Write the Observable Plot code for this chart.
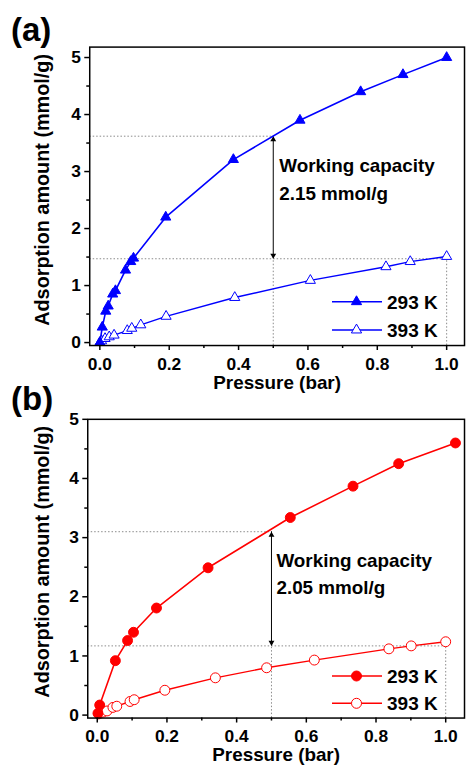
<!DOCTYPE html>
<html><head><meta charset="utf-8">
<script src="https://cdn.jsdelivr.net/npm/d3@7"></script>
<script src="https://cdn.jsdelivr.net/npm/@observablehq/plot@0.6"></script>
<style>
body{margin:0;background:#fff;}
#wrap{position:relative;width:466px;height:767px;overflow:hidden;background:#fff;font-family:"Liberation Sans",Arial,sans-serif;font-weight:bold;}
.fig{position:absolute;left:0;}
.tag{position:absolute;left:11px;font-size:33px;line-height:33px;font-weight:bold;}
.legend{position:absolute;left:0;overflow:visible;}
</style></head><body><div id="wrap"></div>
<script>
// ---------- data: panel (a), blue triangles ----------
const pressureA293 = [0, 0.007, 0.017, 0.024, 0.037, 0.045, 0.074, 0.089, 0.097, 0.19, 0.385, 0.577, 0.752, 0.874, 1.0];
const uptakeA293   = [0, 0.27, 0.55, 0.64, 0.85, 0.91, 1.27, 1.42, 1.48, 2.2, 3.21, 3.9, 4.4, 4.7, 5.0];
const pressureA393 = [0, 0.005, 0.015, 0.027, 0.041, 0.079, 0.092, 0.118, 0.191, 0.389, 0.607, 0.825, 0.895, 1.0];
const uptakeA393   = [0, 0.03, 0.07, 0.10, 0.13, 0.21, 0.25, 0.31, 0.46, 0.79, 1.09, 1.33, 1.42, 1.51];
// ---------- data: panel (b), red circles ----------
const pressureB293 = [0.002, 0.007, 0.052, 0.087, 0.104, 0.17, 0.318, 0.554, 0.734, 0.865, 1.028];
const uptakeB293   = [0.03, 0.17, 0.92, 1.26, 1.40, 1.81, 2.49, 3.34, 3.87, 4.25, 4.6];
const pressureB393 = [0.004, 0.016, 0.028, 0.045, 0.056, 0.094, 0.106, 0.194, 0.339, 0.486, 0.623, 0.837, 0.901, 1.0];
const uptakeB393   = [0.02, 0.05, 0.07, 0.13, 0.15, 0.23, 0.26, 0.42, 0.63, 0.80, 0.93, 1.12, 1.17, 1.24];
// ---------- working-capacity guides: [pressure, high uptake, low uptake, end pressure, end uptake] ----------
const guideA = [0.5, 3.62, 1.47, 1.0, 1.51];
const guideB = [0.5, 3.10, 1.17, 1.0, 1.24];
const noteA = ["Working capacity", "2.15 mmol/g"];
const noteB = ["Working capacity", "2.05 mmol/g"];
const noteYA = [3.10, 2.60];
const noteYB = [2.61, 2.15];
const seriesNames = ["293 K", "393 K"];
const panelTags = ["(a)", "(b)"];
// ---------- ticks ----------
const xMajor = [0, 0.2, 0.4, 0.6, 0.8, 1.0];
const xMinor = [0.1, 0.3, 0.5, 0.7, 0.9];
const yMajor = [0, 1, 2, 3, 4, 5];
const yMinor = [0.5, 1.5, 2.5, 3.5, 4.5];
const xLabel = "Pressure (bar)";
const yLabel = "Adsorption amount (mmol/g)";

const wrap = document.getElementById("wrap");
const FONT = "'Liberation Sans', Arial, sans-serif";

function makePanel(cfg) {
  const s293 = cfg.x293.map((x, i) => ({x, y: cfg.y293[i]}));
  const s393 = cfg.x393.map((x, i) => ({x, y: cfg.y393[i]}));
  const [gx, gHi, gLo, gxEnd, gyEnd] = cfg.guide;
  const x0 = cfg.xDomain[0], y0 = cfg.yDomain[0];
  const notes = cfg.note.map((t, i) => ({t, y: cfg.noteY[i]}));
  const grey = "#8a8a8a";
  const plot = Plot.plot({
    width: 470, height: cfg.height,
    marginTop: cfg.mt, marginBottom: cfg.mb, marginLeft: cfg.ml, marginRight: 2,
    x: {domain: cfg.xDomain},
    y: {domain: cfg.yDomain},
    style: {fontFamily: FONT, fontWeight: "bold", fontSize: "17.5px", background: "transparent", color: "#000", overflow: "visible"},
    marks: [
      // dotted guide lines
      Plot.ruleY([gHi], {y: d => d, x1: x0, x2: gx, stroke: grey, strokeWidth: 1, strokeDasharray: "1.5,2"}),
      Plot.ruleY([gLo], {y: d => d, x1: x0, x2: gxEnd, stroke: grey, strokeWidth: 1, strokeDasharray: "1.5,2"}),
      Plot.ruleX([gx], {x: d => d, y1: y0, y2: gLo, stroke: grey, strokeWidth: 1, strokeDasharray: "1.5,2"}),
      Plot.ruleX([gxEnd], {x: d => d, y1: y0, y2: gyEnd, stroke: grey, strokeWidth: 1, strokeDasharray: "1.5,2"}),
      // double arrow
      Plot.ruleX([gx], {x: d => d, y1: gLo, y2: gHi, stroke: "#000", strokeWidth: 1}),
      Plot.dot([gHi], {x: gx, y: d => d, symbol: "triangle", r: 2.2, fill: "#000", dy: 3.4}),
      Plot.dot([gLo], {x: gx, y: d => d, symbol: "triangle", r: 2.2, fill: "#000", rotate: 180, dy: -3.4}),
      // series
      Plot.line(s393, {x: "x", y: "y", stroke: cfg.color, strokeWidth: 1.4}),
      Plot.dot(s393, {x: "x", y: "y", symbol: cfg.symbol, r: cfg.r, fill: "#fff", stroke: cfg.color, strokeWidth: 1}),
      Plot.line(s293, {x: "x", y: "y", stroke: cfg.color, strokeWidth: 1.6}),
      Plot.dot(s293, {x: "x", y: "y", symbol: cfg.symbol, r: cfg.r, fill: cfg.color, stroke: cfg.color, strokeWidth: 1}),
      // annotation
      Plot.text(notes, {x: gx, y: "y", text: "t", textAnchor: "start", dx: cfg.noteDx, fontSize: 19, fill: "#000"}),
      // frame + axes
      Plot.frame({stroke: "#000", strokeWidth: 1.5}),
      Plot.axisX({ticks: xMajor, tickSize: 5, tickPadding: 7, tickFormat: d3.format(".1f"), label: null, strokeWidth: 1.5}),
      Plot.axisX({ticks: xMinor, tickSize: 3, tickFormat: () => "", label: null, strokeWidth: 1.5}),
      Plot.axisY({ticks: yMajor, tickSize: 5, tickPadding: 4, tickFormat: d3.format("d"), label: null, strokeWidth: 1.5}),
      Plot.axisY({ticks: yMinor, tickSize: 3, tickFormat: () => "", label: null, strokeWidth: 1.5}),
      Plot.text([xLabel], {frameAnchor: "bottom", text: d => d, textAnchor: "middle", lineAnchor: "middle", dy: cfg.xLabDy, fontSize: 19, fill: "#000"}),
      Plot.text([yLabel], {frameAnchor: "left", text: d => d, textAnchor: "middle", lineAnchor: "middle", rotate: -90, dx: cfg.yLabDx, dy: cfg.yLabDy, fontSize: 20, fill: "#000"})
    ]
  });
  const holder = document.createElement("div");
  holder.className = "fig";
  holder.style.top = cfg.top + "px";
  holder.appendChild(plot);
  wrap.appendChild(holder);

  // panel tag
  const tag = document.createElement("div");
  tag.className = "tag";
  tag.style.top = cfg.tagTop + "px";
  tag.textContent = cfg.tag;
  wrap.appendChild(tag);

  // legend
  const leg = d3.select(wrap).append("svg").attr("class", "legend")
    .attr("width", 466).attr("height", 767).style("top", "0px").style("pointer-events", "none");
  const sym = d3.symbol().type(cfg.symbol === "circle" ? d3.symbolCircle : d3.symbolTriangle).size(cfg.r * cfg.r * Math.PI);
  cfg.legendY.forEach((ly, i) => {
    const g = leg.append("g");
    g.append("line").attr("x1", 332).attr("x2", 382).attr("y1", ly).attr("y2", ly)
      .attr("stroke", cfg.color).attr("stroke-width", 1.5);
    g.append("path").attr("d", sym()).attr("transform", `translate(356.5,${ly})`)
      .attr("fill", i === 0 ? cfg.color : "#fff").attr("stroke", cfg.color).attr("stroke-width", 1);
    g.append("text").attr("x", 387).attr("y", ly).attr("dy", "0.36em")
      .attr("font-family", FONT).attr("font-weight", "bold").attr("font-size", 19).text(seriesNames[i]);
  });
}

makePanel({
  x293: pressureA293, y293: uptakeA293, x393: pressureA393, y393: uptakeA393,
  color: "#0000ff", symbol: "triangle", r: 3.8,
  guide: guideA, note: noteA, noteY: noteYA, noteDx: 6,
  top: 0, height: 398, mt: 47, mb: 50, ml: 90,
  xDomain: [-0.0292, 1.0515], yDomain: [-0.052, 5.183],
  xLabDy: 38, yLabDx: -47, yLabDy: -6.5,
  tag: panelTags[0], tagTop: 12.5, legendY: [301.7, 330]
});
makePanel({
  x293: pressureB293, y293: uptakeB293, x393: pressureB393, y393: uptakeB393,
  color: "#ff0000", symbol: "circle", r: 5,
  guide: guideB, note: noteB, noteY: noteYB, noteDx: 5,
  top: 398, height: 369, mt: 21, mb: 46.7, ml: 88,
  xDomain: [-0.0273, 1.054], yDomain: [-0.05, 5.0],
  xLabDy: 37.7, yLabDx: -45, yLabDy: -7,
  tag: panelTags[1], tagTop: 381.5, legendY: [676, 703.3]
});
</script>
</body></html>
